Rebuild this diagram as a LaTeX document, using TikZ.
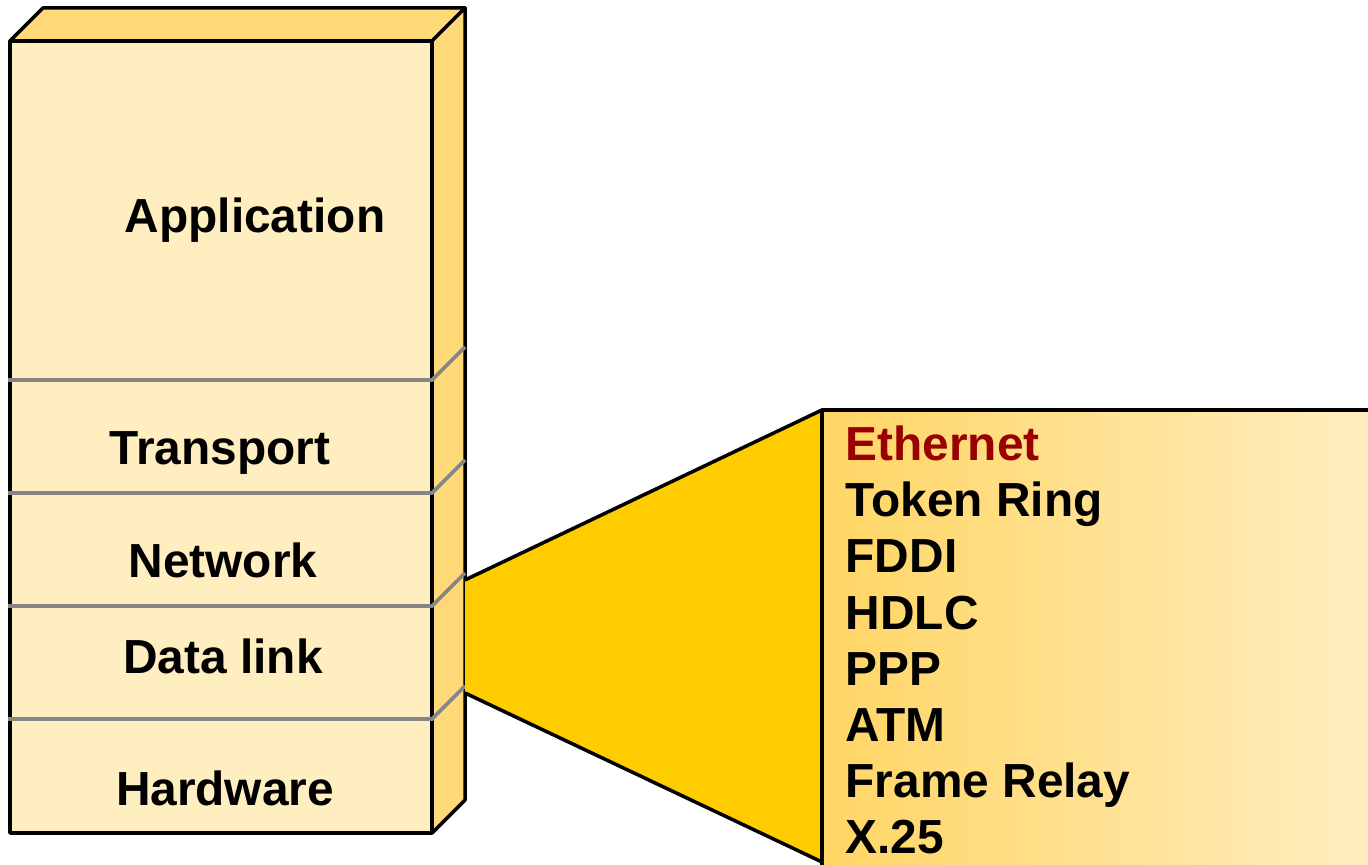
\documentclass[tikz,border=0pt]{standalone}
\usepackage{fontspec}
\setmainfont{Liberation Sans}
\definecolor{facelight}{HTML}{FFEEC0}
\definecolor{facedark}{HTML}{FFD978}
\definecolor{funnelgold}{HTML}{FFCC00}
\definecolor{listleft}{HTML}{FFD564}
\definecolor{listright}{HTML}{FFEEC2}
\definecolor{ethred}{HTML}{990000}
\tikzset{
  edge/.style={draw=black,line width=1pt,line join=round},
  divider/.style={draw=gray!95,line width=1.1pt},
  layerlabel/.style={font=\fontsize{13.6}{16}\selectfont\bfseries,anchor=base,inner sep=0pt},
  itemlabel/.style={font=\fontsize{13.6}{16}\selectfont\bfseries,anchor=base west,inner sep=0pt}
}
\begin{document}
\begin{tikzpicture}[x=0.01cm,y=0.01cm]
      \clip (0,0) rectangle (1368,864);
      % stack of layers
      \draw[edge,fill=facedark] (10,823) -- (43,856) -- (465,856) -- (432,823) -- cycle;
      \draw[edge,fill=facedark] (432,823) -- (465,856) -- (465,64) -- (432,31) -- cycle;
      \draw[edge,fill=facelight] (10,31) rectangle (432,823);
      % dividers between the layers
      \foreach \y in {484,371,258,145}
        \draw[divider] (8,\y) -- (432,\y) -- (465,\y+33);
      % layer names
      \node[layerlabel] (app) at (255,631) {Application};
      \node[layerlabel] (trans) at (220,399) {Transport};
      \node[layerlabel] (net) at (223,286) {Network};
      \node[layerlabel] (link) at (223,191) {Data link};
      \node[layerlabel] (hw) at (225,59) {Hardware};
      % zoom onto the data link layer
      \coordinate (ltop) at (465,284);
      \coordinate (lbot) at (465,171);
      \coordinate (rtop) at (822,454);
      \coordinate (rbot) at (822,2);
      \fill[funnelgold] (ltop) -- (rtop) -- (rbot) -- (lbot) -- cycle;
      \draw[edge] (ltop) -- (rtop);
      \draw[edge] (lbot) -- (rbot);
      \draw[edge,left color=listleft,right color=listright] (822,-20) rectangle (1380,454);
      % protocols
      \node[itemlabel,text=ethred] (eth) at (845,403) {Ethernet};
      \foreach \name/\txt [count=\i] in {tr/Token Ring,fddi/FDDI,hdlc/HDLC,ppp/PPP,atm/ATM,fr/Frame Relay,xtf/X.25}
        \node[itemlabel] (\name) at (845,403-56*\i) {\txt};
\end{tikzpicture}
\end{document}
